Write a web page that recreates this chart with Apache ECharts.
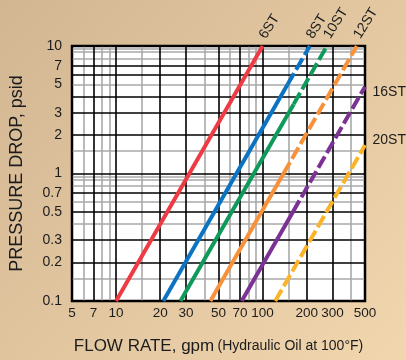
<!DOCTYPE html>
<html><head><meta charset="utf-8">
<script src="https://cdn.jsdelivr.net/npm/echarts@6/dist/echarts.min.js"></script>
<style>html,body{margin:0;padding:0;width:406px;height:360px;overflow:hidden;}#c{width:406px;height:360px;}</style>
</head><body><div id="c"></div>
<script>
// Tick labels and grid line values
const xTickLabels = [5, 7, 10, 20, 30, 50, 70, 100, 200, 300, 500];
const xMinorLines = [6, 8, 9, 15, 40, 60, 80, 90, 150, 400];
const yTickLabels = [0.1, 0.2, 0.3, 0.5, 0.7, 1, 2, 3, 5, 7, 10];
const yMajorLines = [0.1, 0.2, 0.3, 0.5, 0.7, 1, 2, 3, 4, 6, 7, 10];
const yMinorLines = [0.15, 0.4, 0.6, 0.8, 0.9, 0.95, 1.5, 5, 8, 9, 9.5];

// Element curves: [flow gpm, pressure drop psid]
const lineNames = ['6ST', '8ST', '10ST', '12ST', '16ST', '20ST'];
const startPts = [[10, 0.1], [21, 0.1], [27.5, 0.1], [44, 0.1], [72, 0.1], [122, 0.1]];
const dashStartPts = [[100, 10], [148, 5], [163, 3.5], [139, 1], [161, 0.5], [122, 0.1]];
const endPts = [[100, 10], [210, 10], [275, 10], [440, 10], [500, 4.8], [500, 1.67]];
const lineColors = ['#ee3a43', '#0b73c1', '#0f9a5c', '#f7923a', '#7c3294', '#fbb42a'];

const fmt = v => String(parseFloat(Number(v).toPrecision(6)));
const txt = '#1c1c1c';
const fontFam = '"Liberation Sans", Arial, sans-serif';

function mkAxis(isX, major, labels, showLabels, lineColor, nameCfg) {
  const ax = {
    type: 'log', logBase: 10,
    min: isX ? 5 : 0.1, max: isX ? 500 : 10,
    axisLine: { show: false },
    axisTick: { show: false, customValues: major },
    splitLine: { show: true, lineStyle: { color: lineColor, width: 1.6 } },
    axisLabel: showLabels ? {
      show: true, customValues: labels, formatter: fmt,
      color: txt, fontSize: isX ? 13.5 : 14, fontFamily: fontFam,
      margin: isX ? 5 : 10, hideOverlap: false,
      padding: isX ? 0 : [6, 0, 0, 0]
    } : { show: false },
    z: showLabels ? 2 : 1
  };
  ax.position = isX ? 'bottom' : 'left';
  if (nameCfg) Object.assign(ax, nameCfg);
  return ax;
}

const series = [];
lineNames.forEach((nm, i) => {
  const topLabel = endPts[i][1] >= 10;
  const lbl = topLabel ? {
    show: true, formatter: nm, position: 'top', rotate: 58, align: 'left',
    verticalAlign: 'middle', distance: 8, color: txt, fontSize: 14, fontFamily: fontFam
  } : {
    show: true, formatter: nm, position: 'right', distance: 7,
    offset: [0, i === 4 ? 5 : -5], color: txt, fontSize: 14, fontFamily: fontFam
  };
  const solidEnd = dashStartPts[i];
  const hasSolid = solidEnd[1] > startPts[i][1];
  const hasDash = endPts[i][1] > solidEnd[1] || endPts[i][0] > solidEnd[0];
  const common = {
    type: 'line', xAxisIndex: 1, yAxisIndex: 1, showSymbol: true, symbol: 'circle', symbolSize: 1,
    itemStyle: { color: 'rgba(0,0,0,0)', borderWidth: 0 }, z: 5, silent: true,
    label: { show: false }, emphasis: { disabled: true }
  };
  if (hasSolid) {
    series.push(Object.assign({}, common, {
      data: [startPts[i], hasDash ? solidEnd : { value: solidEnd, label: lbl }],
      lineStyle: { color: lineColors[i], width: 4, cap: 'butt' }
    }));
  }
  if (hasDash) {
    series.push(Object.assign({}, common, {
      data: [hasSolid ? solidEnd : startPts[i], { value: endPts[i], label: lbl }],
      lineStyle: { color: lineColors[i], width: 4, type: [13, 4], cap: 'butt' }
    }));
  }
});

const chart = echarts.init(document.getElementById('c'), null, { renderer: 'canvas' });
chart.setOption({
  animation: false,
  backgroundColor: new echarts.graphic.LinearGradient(0, 0, 1, 1, [
    { offset: 0, color: '#d2b692' }, { offset: 1, color: '#f1d6ae' }
  ]),
  grid: { left: 67, right: 41, top: 46, bottom: 45, show: true, backgroundColor: '#ffffff', borderColor: '#000', borderWidth: 2.5 },
  xAxis: [
    mkAxis(true, xMinorLines, null, false, '#a9a9a9'),
    mkAxis(true, xTickLabels, xTickLabels, true, '#000', {
      name: '{a|FLOW RATE, gpm} {b|(Hydraulic Oil at 100°F)}',
      nameLocation: 'middle', nameGap: 37,
      nameTextStyle: { rich: { a: { fontSize: 17, color: txt, fontFamily: fontFam }, b: { fontSize: 14, color: txt, fontFamily: fontFam } } }
    })
  ],
  yAxis: [
    mkAxis(false, yMinorLines, null, false, '#a9a9a9'),
    mkAxis(false, yMajorLines, yTickLabels, true, '#000', {
      name: 'PRESSURE DROP, psid', nameLocation: 'middle', nameGap: 46,
      nameTextStyle: { fontSize: 18, color: txt, fontFamily: fontFam }
    })
  ],
  series: series
});
</script></body></html>
